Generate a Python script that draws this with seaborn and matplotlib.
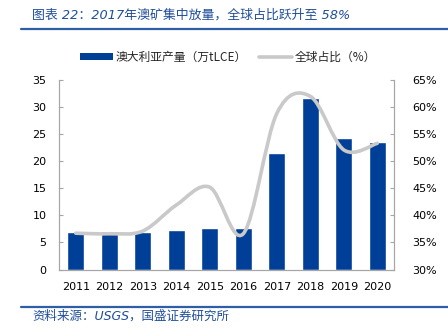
import numpy as np
import pandas as pd
import matplotlib
matplotlib.use("Agg")
import matplotlib.pyplot as plt
import seaborn as sns
from matplotlib.path import Path
from matplotlib.patches import PathPatch, Patch
from matplotlib.lines import Line2D
from matplotlib.ticker import FuncFormatter, FixedLocator

years = ["2011", "2012", "2013", "2014", "2015", "2016", "2017", "2018", "2019", "2020"]
production = [6.9, 7.1, 7.0, 7.3, 7.7, 7.7, 21.6, 31.7, 24.3, 23.5]
share_pct = [36.7, 36.6, 37.1, 41.9, 45.2, 36.6, 58.8, 62.0, 52.1, 53.3]

title_text = "图表 22：2017年澳矿集中放量，全球占比跃升至 58%"
source_text = "资料来源：USGS，国盛证券研究所"
bar_label = "澳大利亚产量（万tLCE）"
line_label = "全球占比（%）"

BAR_C = "#003F98"
LINE_C = "#C9C9C9"
TXT_BLUE = "#1F4E9A"
SPINE_C = "#A6A6A6"

sns.set_style("white")
plt.rcParams['font.family'] = ['DejaVu Sans', 'Noto Sans CJK SC']
plt.rcParams['axes.unicode_minus'] = False

fig = plt.figure(figsize=(4.48, 3.36), dpi=100)
W, H = 448, 336
ax = fig.add_axes([59 / W, 1 - 269.5 / H, (394 - 59) / W, (269.5 - 80) / H])

df = pd.DataFrame({"year": years, "prod": production})
sns.barplot(data=df, x="year", y="prod", order=years, color=BAR_C,
            width=0.5, saturation=1, ax=ax, zorder=2)
ax.set_xlim(-0.5, len(years) - 0.5)
ax.set_ylim(0, 35)
ax.set_yticks(np.arange(0, 36, 5))
ax.set_xlabel("")
ax.set_ylabel("")

ax2 = ax.twinx()
ax2.set_ylim(30, 65)
ax2.set_yticks(np.arange(30, 66, 5))
ax2.yaxis.set_major_formatter(FuncFormatter(lambda v, p: f"{int(round(v))}%"))

# smoothed line (Catmull-Rom style Bezier through the data points)
xs = np.arange(len(share_pct), dtype=float)
ys = np.array(share_pct, dtype=float)
pts = np.column_stack([xs, ys])
verts = [tuple(pts[0])]
codes = [Path.MOVETO]
n = len(pts)
for i in range(n - 1):
    p0 = pts[i - 1] if i > 0 else pts[i]
    p1 = pts[i]
    p2 = pts[i + 1]
    p3 = pts[i + 2] if i + 2 < n else pts[i + 1]
    c1 = p1 + (p2 - p0) / 6.0
    c2 = p2 - (p3 - p1) / 6.0
    verts += [tuple(c1), tuple(c2), tuple(p2)]
    codes += [Path.CURVE4] * 3
path = Path(verts, codes)
ax2.add_patch(PathPatch(path, facecolor="none", edgecolor=LINE_C, lw=2.6,
                        capstyle="round", joinstyle="round", zorder=3))

for a in (ax, ax2):
    a.spines["top"].set_visible(False)
    for s in ["left", "right", "bottom"]:
        a.spines[s].set_color(SPINE_C)
        a.spines[s].set_linewidth(0.8)

ax.tick_params(axis="y", direction="in", length=3, color=SPINE_C, labelsize=8,
               pad=9, labelcolor="#000000")
ax2.tick_params(axis="y", direction="in", length=3, color=SPINE_C, labelsize=8,
                pad=13, labelcolor="#000000")
ax.tick_params(axis="x", which="major", length=0, labelsize=8, pad=9,
               labelcolor="#000000")
ax.xaxis.set_minor_locator(FixedLocator(np.arange(0.5, len(years) - 0.5, 1)))
ax.tick_params(axis="x", which="minor", direction="out", length=3, color=SPINE_C)
ax.grid(False)
ax2.grid(False)

# legend
handles = [Patch(facecolor=BAR_C, edgecolor="none"),
           Line2D([0], [0], color=LINE_C, lw=2.6)]
fig.legend(handles, [bar_label, line_label], loc="center",
           bbox_to_anchor=(228 / W, 1 - 57 / H), ncol=2, frameon=False,
           handlelength=2.8, handletextpad=0.25,
           columnspacing=1.0, handleheight=0.6,
           prop={'family': ['Noto Sans CJK SC', 'DejaVu Sans'], 'size': 8.5})

# title and source
fig.text(32 / W, 1 - 15 / H, title_text, ha="left", va="center", fontsize=9.3,
         color=TXT_BLUE, style="italic",
         family=['DejaVu Sans', 'Noto Sans CJK SC'])
fig.add_artist(Line2D([21 / W, 1.0], [1 - 28.5 / H] * 2, color="#2E5FA6",
                      lw=1.6, transform=fig.transFigure))
fig.add_artist(Line2D([21 / W, 1.0], [1 - 306.5 / H] * 2, color="#2E5FA6",
                      lw=1.6, transform=fig.transFigure))
fig.text(32 / W, 1 - 316 / H, source_text, ha="left", va="center", fontsize=9,
         color=TXT_BLUE, style="italic",
         family=['DejaVu Sans', 'Noto Sans CJK SC'])

fig.savefig("out.png", dpi=100)
